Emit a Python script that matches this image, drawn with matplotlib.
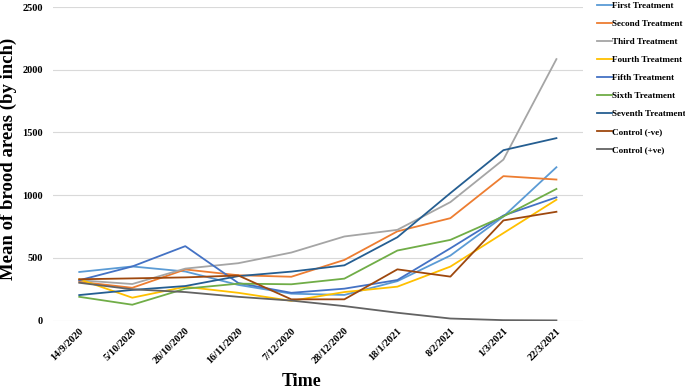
import matplotlib.pyplot as plt

dates = ['14/9/2020', '5/10/2020', '26/10/2020', '16/11/2020', '7/12/2020',
         '28/12/2020', '18/1/2021', '8/2/2021', '1/3/2021', '22/3/2021']

first = [388, 432, 392, 285, 215, 205, 315, 519, 830, 1223]
second = [310, 262, 408, 362, 350, 484, 712, 817, 1152, 1125]
third = [322, 292, 415, 458, 543, 671, 724, 945, 1284, 2085]
fourth = [330, 183, 270, 222, 158, 228, 271, 431, 698, 964]
fifth = [322, 432, 594, 300, 222, 255, 324, 577, 838, 983]
sixth = [190, 127, 255, 295, 290, 335, 559, 644, 831, 1050]
seventh = [204, 245, 276, 355, 391, 441, 665, 1017, 1359, 1455]
control_neg = [330, 337, 345, 360, 170, 170, 409, 351, 799, 868]
control_pos = [302, 250, 228, 190, 160, 116, 63, 17, 4, 2]

series = [
    ('First Treatment', first, '#5B9BD5'),
    ('Second Treatment', second, '#ED7D31'),
    ('Third Treatment', third, '#A5A5A5'),
    ('Fourth Treatment', fourth, '#FFC000'),
    ('Fifth Treatment', fifth, '#4472C4'),
    ('Sixth Treatment', sixth, '#70AD47'),
    ('Seventh Treatment', seventh, '#255E91'),
    ('Control (-ve)', control_neg, '#9E480E'),
    ('Control (+ve)', control_pos, '#636363'),
]

plt.rcParams['font.family'] = 'Liberation Serif'
plt.rcParams['font.weight'] = 'bold'

fig = plt.figure(figsize=(6.85, 3.92), dpi=100)
ax = fig.add_axes([0.077, 0.182, 0.774, 0.8])

x = range(len(dates))
for name, vals, col in series:
    ax.plot(x, vals, color=col, lw=1.3, label=name)

ax.set_xlim(-0.5, len(dates) - 0.5)
ax.set_ylim(0, 2500)
ax.set_yticks([0, 500, 1000, 1500, 2000, 2500])
ax.set_xticks(list(x))
ax.set_xticklabels(dates, rotation=45, ha='right', rotation_mode='anchor', fontsize=7.5)
ax.tick_params(axis='y', labelsize=7.5, length=0, pad=7)
ax.tick_params(axis='x', length=0, pad=4)
ax.grid(axis='y', color='#D9D9D9', lw=0.8)
ax.set_axisbelow(True)
for s in ax.spines.values():
    s.set_visible(False)

ax.set_ylabel('Mean of brood areas (by inch)', fontsize=13.5, fontweight='bold')
ax.yaxis.set_label_coords(-0.068, 0.515)
fig.text(302 / 685, 0.015, 'Time', fontsize=13, fontweight='bold', ha='center')

fig.legend(loc='upper left', bbox_to_anchor=(0.862, 1.012), frameon=False,
           fontsize=6.6, handlelength=1.6, handletextpad=0.1,
           labelspacing=1.05, borderaxespad=0.3)

fig.savefig('out.png', dpi=100)
